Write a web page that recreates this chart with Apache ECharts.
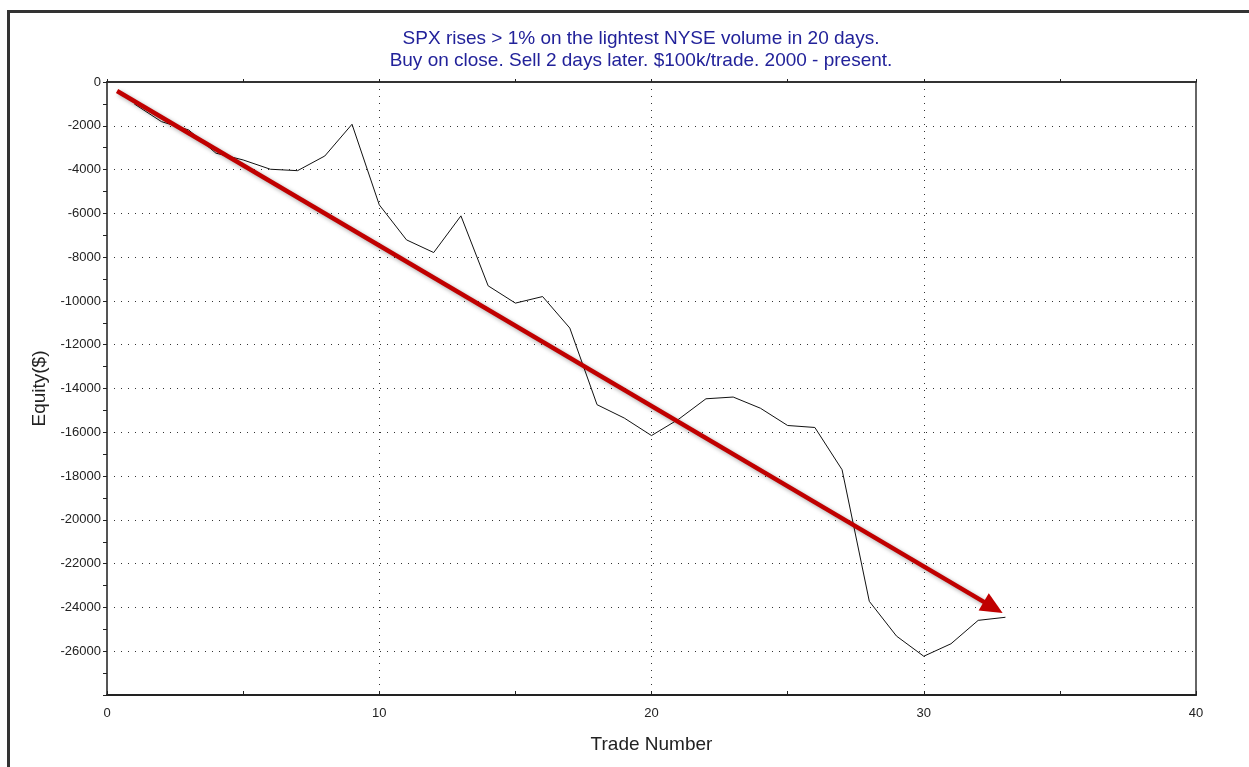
<!DOCTYPE html>
<html>
<head>
<meta charset="utf-8">
<script src="https://cdn.jsdelivr.net/npm/echarts@6/dist/echarts.min.js"></script>
<style>html,body{margin:0;padding:0;background:#fff}#c{width:1249px;height:767px}</style>
</head>
<body>
<div id="c"></div>
<script>
const titleLines = ["SPX rises > 1% on the lightest NYSE volume in 20 days.", "Buy on close. Sell 2 days later. $100k/trade. 2000 - present."];
const trades = [1,2,3,4,5,6,7,8,9,10,11,12,13,14,15,16,17,18,19,20,21,22,23,24,25,26,27,28,29,30,31,32,33];
const equity = [-1000,-1810,-2190,-3250,-3560,-3985,-4050,-3380,-1930,-5610,-7210,-7790,-6115,-9310,-10100,-9800,-11240,-14740,-15350,-16150,-15400,-14470,-14390,-14900,-15690,-15780,-17710,-23720,-25310,-26230,-25660,-24590,-24450];
const arrowStart = [0.37, -410];
const arrowEnd = [32.55, -24000];
const xTicks = [0, 10, 20, 30, 40];
const yRange = [-28000, 0];

const chart = echarts.init(document.getElementById('c'));
const font = 'Liberation Sans, Arial, sans-serif';
chart.setOption({
  animation: false,
  backgroundColor: '#fff',
  title: {
    text: titleLines.join('\n'),
    left: 636, top: 23, textAlign: 'center',
    textStyle: {fontFamily: font, fontSize: 19, fontWeight: 'normal', color: '#22229a', lineHeight: 22}
  },
  grid: {left: 107, right: 53, top: 82, bottom: 72},
  xAxis: [{
    type: 'value', min: xTicks[0], max: xTicks[xTicks.length-1], interval: 10,
    name: 'Trade Number', nameLocation: 'middle', nameGap: 40,
    nameTextStyle: {fontFamily: font, fontSize: 19, color: '#222'},
    axisLine: {show: true, onZero: false, lineStyle: {color: '#222', width: 2}},
    axisTick: {show: true, inside: true, length: 4, lineStyle: {color: '#222'}},
    minorTick: {show: true, splitNumber: 2, length: 4, lineStyle: {color: '#222'}},
    axisLabel: {fontFamily: font, fontSize: 13, color: '#222', margin: 12},
    splitLine: {show: true, lineStyle: {color: '#333', type: [1, 6], width: 1}}
  }, {
    type: 'value', position: 'top', min: xTicks[0], max: xTicks[xTicks.length-1], interval: 10,
    axisLine: {show: true, onZero: false, lineStyle: {color: '#333', width: 2}},
    axisTick: {show: true, length: 3, lineStyle: {color: '#222'}},
    minorTick: {show: true, splitNumber: 2, length: 3, lineStyle: {color: '#222'}},
    axisLabel: {show: false}, splitLine: {show: false}
  }],
  yAxis: [{
    type: 'value', min: yRange[0], max: yRange[1], interval: 2000,
    name: 'Equity($)', nameLocation: 'middle', nameGap: 58, nameRotate: 90,
    nameTextStyle: {fontFamily: font, fontSize: 19, color: '#222'},
    axisLine: {show: true, onZero: false, lineStyle: {color: '#555', width: 2}},
    axisTick: {show: true, length: 4, lineStyle: {color: '#222'}},
    minorTick: {show: true, splitNumber: 2, length: 4, lineStyle: {color: '#222'}},
    axisLabel: {fontFamily: font, fontSize: 13, color: '#222', margin: 6, showMinLabel: false,
      formatter: v => v === yRange[0] ? '' : String(v)},
    splitLine: {show: true, lineStyle: {color: '#333', type: [1, 6], width: 1}}
  }, {
    type: 'value', position: 'right', min: yRange[0], max: yRange[1],
    axisLine: {show: true, onZero: false, lineStyle: {color: '#666', width: 2}},
    axisTick: {show: false}, axisLabel: {show: false}, splitLine: {show: false}
  }],
  series: [{
    type: 'line',
    data: trades.map((t, i) => [t, equity[i]]),
    symbol: 'none',
    lineStyle: {color: '#111', width: 1},
    z: 3,
    markLine: {
      silent: true,
      symbol: ['none', 'triangle'],
      symbolSize: [20, 22],
      label: {show: false},
      lineStyle: {color: '#c00000', width: 4.5, type: 'solid',
        shadowBlur: 4, shadowColor: 'rgba(0,0,0,0.35)', shadowOffsetX: 2, shadowOffsetY: 2},
      data: [[{coord: arrowStart}, {coord: arrowEnd}]]
    }
  }],
  graphic: [{
    type: 'polyline',
    shape: {points: [[8.5, 767], [8.5, 11.5], [1249, 11.5]]},
    style: {stroke: '#333', lineWidth: 3, fill: null}
  }]
});
</script>
</body>
</html>
